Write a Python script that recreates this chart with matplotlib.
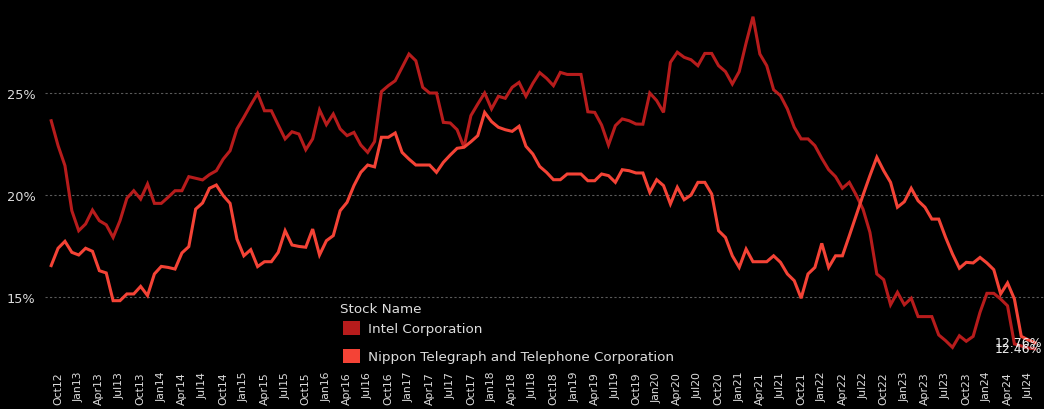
import matplotlib
matplotlib.use("Agg")
import matplotlib.pyplot as plt
from matplotlib.patches import Patch
import pandas as pd

# monthly values, Sep 2012 .. Aug 2024 (%)
months = pd.date_range("2012-09-01", periods=144, freq="MS")

intel = [23.64, 22.42, 21.44, 19.23, 18.25, 18.58, 19.26, 18.74, 18.54, 17.92,
         18.74, 19.84, 20.21, 19.80, 20.54, 19.59, 19.59, 19.89, 20.21, 20.21,
         20.90, 20.82, 20.74, 21.00, 21.19, 21.76, 22.17, 23.24, 23.81, 24.41,
         24.98, 24.13, 24.13, 23.43, 22.75, 23.10, 22.99, 22.22, 22.75, 24.17,
         23.45, 23.97, 23.24, 22.91, 23.07, 22.45, 22.09, 22.62, 25.07, 25.36,
         25.60, 26.26, 26.91, 26.58, 25.28, 25.00, 25.00, 23.56, 23.53, 23.20,
         22.34, 23.89, 24.46, 25.00, 24.22, 24.84, 24.74, 25.28, 25.52, 24.84,
         25.47, 26.00, 25.72, 25.36, 26.01, 25.91, 25.91, 25.91, 24.08, 24.05,
         23.43, 22.45, 23.40, 23.73, 23.64, 23.48, 23.47, 25.00, 24.63, 24.05,
         26.50, 27.00, 26.75, 26.63, 26.34, 26.94, 26.94, 26.34, 26.05, 25.44,
         26.05, 27.45, 28.74, 26.91, 26.34, 25.16, 24.87, 24.22, 23.32, 22.75,
         22.75, 22.42, 21.80, 21.24, 20.90, 20.33, 20.62, 20.00, 19.30, 18.17,
         16.13, 15.85, 14.62, 15.23, 14.62, 14.94, 14.04, 14.04, 14.04, 13.14,
         12.86, 12.53, 13.10, 12.83, 13.07, 14.25, 15.18, 15.18, 14.90, 14.57,
         12.70, 12.60, 12.50, 12.46]

ntt = [16.54, 17.39, 17.73, 17.19, 17.06, 17.39, 17.24, 16.29, 16.18, 14.82,
       14.82, 15.15, 15.15, 15.52, 15.07, 16.13, 16.50, 16.45, 16.37, 17.16,
       17.47, 19.31, 19.61, 20.33, 20.49, 19.97, 19.59, 17.84, 17.02, 17.32,
       16.49, 16.73, 16.73, 17.19, 18.25, 17.55, 17.48, 17.44, 18.33, 17.06,
       17.76, 18.01, 19.23, 19.64, 20.46, 21.11, 21.47, 21.38, 22.83, 22.83,
       23.04, 22.09, 21.76, 21.47, 21.47, 21.47, 21.11, 21.60, 21.96, 22.29,
       22.34, 22.61, 22.91, 24.05, 23.60, 23.32, 23.20, 23.12, 23.37, 22.39,
       22.01, 21.40, 21.11, 20.75, 20.75, 21.03, 21.03, 21.03, 20.70, 20.70,
       21.03, 20.95, 20.62, 21.24, 21.19, 21.08, 21.08, 20.13, 20.75, 20.46,
       19.56, 20.38, 19.77, 20.00, 20.62, 20.62, 20.05, 18.25, 17.92, 17.02,
       16.45, 17.35, 16.73, 16.73, 16.73, 17.02, 16.70, 16.13, 15.80, 14.94,
       16.13, 16.45, 17.63, 16.45, 17.02, 17.02, 18.00, 19.00, 20.00, 20.95,
       21.85, 21.19, 20.62, 19.40, 19.67, 20.33, 19.72, 19.40, 18.82, 18.82,
       17.92, 17.11, 16.41, 16.70, 16.67, 16.94, 16.67, 16.34, 15.15, 15.69,
       14.90, 13.07, 12.90, 12.76]

names = ["Intel Corporation", "Nippon Telegraph and Telephone Corporation"]
colors = ["#b71c1c", "#f44336"]
yticks = [15, 20, 25]

fig = plt.figure(figsize=(10.44, 4.10), dpi=100, facecolor="black")
ax = fig.add_axes([45 / 1044, 45 / 410, 999 / 1044, 365 / 410])
ax.set_facecolor("black")

x = list(range(len(months)))
ax.plot(x, intel, color=colors[0], lw=2.2, solid_joinstyle="miter")
ax.plot(x, ntt, color=colors[1], lw=2.2, solid_joinstyle="miter")

# end labels
ax.text(x[-1] + 1.0, ntt[-1], "%.2f%%" % ntt[-1], color="#eeeeee",
        fontsize=9, ha="right", va="center")
ax.text(x[-1] + 1.0, intel[-1], "%.2f%%" % intel[-1], color="#eeeeee",
        fontsize=9, ha="right", va="center")

ax.set_xlim(-0.9, 144.3)
ax.set_ylim(11.716, 29.608)

ax.set_yticks(yticks)
ax.set_yticklabels(["%d%%" % v for v in yticks])
for v in yticks:
    ax.axhline(v, color="#5a5a5a", lw=0.8, ls=(0, (2, 2)), zorder=0)

qpos = [i for i, m in enumerate(months) if m.month in (1, 4, 7, 10)]
ax.set_xticks(qpos)
ax.set_xticklabels([months[i].strftime("%b%y") for i in qpos], rotation=90)

ax.tick_params(axis="x", length=0, pad=5, labelsize=7.8, colors="#dddddd")
ax.tick_params(axis="y", length=0, pad=7, labelsize=9.3, colors="#dddddd")
for s in ax.spines.values():
    s.set_visible(False)

# legend: title drawn as its own text, entries below it
fig.text(340 / 1044, 1 - 310 / 410, "Stock Name", color="#dddddd",
         fontsize=9.7, ha="left", va="center")
handles = [Patch(facecolor=c, edgecolor="none") for c in colors]
leg = fig.legend(handles, names, loc="upper left",
                 bbox_to_anchor=(343 / 1044, 1 - 321.5 / 410), frameon=False,
                 fontsize=9.7, borderpad=0, borderaxespad=0,
                 handlelength=1.27, handleheight=1.27, handletextpad=0.55,
                 labelspacing=1.0)
for t in leg.get_texts():
    t.set_color("#dddddd")

fig.savefig("out.png", dpi=100, facecolor="black")
